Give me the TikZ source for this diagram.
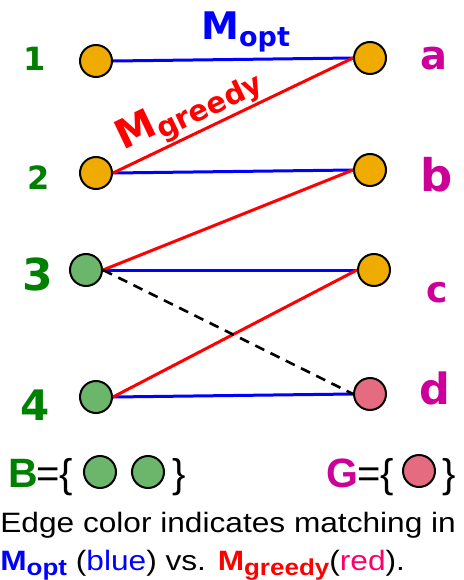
\documentclass[tikz,border=0pt]{standalone}
\usepackage{fontspec}
\setmainfont{Liberation Sans}
\newfontfamily\labfont{DejaVu Sans}
\newfontfamily\capfont[FakeStretch=1.13]{Liberation Sans}
\usetikzlibrary{positioning}
\definecolor{gold}{RGB}{240,171,0}
\definecolor{leaf}{RGB}{108,182,108}
\definecolor{rose}{RGB}{229,108,128}
\definecolor{lgreen}{RGB}{0,128,0}
\definecolor{magen}{RGB}{204,0,153}
\definecolor{pinkred}{RGB}{255,0,102}
\tikzset{every picture/.style={line width=0.75pt}}

\begin{document}
\begin{tikzpicture}[x=1pt, y=-1pt, inner sep=0pt,
        vtx/.style={circle, draw, line width=2pt, minimum size=32pt},
        lnum/.style={font=\labfont\bfseries\fontsize{#1}{#1}\selectfont, text=lgreen},
        llet/.style={font=\labfont\bfseries\fontsize{#1}{#1}\selectfont, text=magen},
        opt/.style={blue, line width=3pt},
        greedy/.style={red, line width=3pt}]
        \useasboundingbox (0,0) rectangle (463,580);
        % left side
        \node[vtx, fill=gold] (n1) at (96, 61)  {};
        \node[vtx, fill=gold] (n2) at (96, 173) {};
        \node[vtx, fill=leaf] (n3) at (86, 270) {};
        \node[vtx, fill=leaf] (n4) at (96, 397) {};
        % right side
        \node[vtx, fill=gold] (a) at (370, 58)  {};
        \node[vtx, fill=gold] (b) at (370, 170) {};
        \node[vtx, fill=gold] (c) at (374, 270) {};
        \node[vtx, fill=rose] (d) at (370, 394) {};
        % labels
        \node[lnum=32] (t1) at (35, 59)  {1};
        \node[lnum=32] (t2) at (39, 178) {2};
        \node[lnum=44] (t3) at (38, 274) {3};
        \node[lnum=42] (t4) at (35, 405) {4};
        \node[llet=40] (ta) at (434, 59)  {a};
        \node[llet=45] (tb) at (437, 175) {b};
        \node[llet=36] (tc) at (437, 293) {c};
        \node[llet=43] (td) at (435, 388) {d};
        % edges
        \draw[opt] (n1.east) -- (a.west);
        \draw[opt] (n2.east) -- (b.west);
        \draw[opt] (n3.east) -- (c.west);
        \draw[opt] (n4.east) -- (d.west);
        \draw[greedy] (n2.east) -- node[sloped, above=1pt, pos=0.36, font=\labfont\bfseries] (lgreedy)
            {\fontsize{40}{40}\selectfont M\raisebox{-7pt}{\fontsize{29}{29}\selectfont greedy}} (a.west);
        \draw[greedy] (n3.east) -- (b.west);
        \draw[greedy] (n4.east) -- (c.west);
        \draw[dashed, line width=2.6pt, dash pattern=on 10pt off 7pt] (n3.east) -- (d.west);
        \node[anchor=base west, text=blue, font=\labfont\bfseries] (lopt) at (201, 40)
            {\fontsize{38}{38}\selectfont M\raisebox{-7pt}{\fontsize{27}{27}\selectfont opt}};
        % the two sets
        \node[anchor=base west, text=lgreen, font=\bfseries\fontsize{41}{41}\selectfont] (bset) at (8, 487) {B};
        \node[anchor=base west, font=\fontsize{40}{40}\selectfont] (beq) at (36, 487) {=\{};
        \node[vtx, fill=leaf] (b1) at (100, 472) {};
        \node[vtx, fill=leaf] (b2) at (148, 472) {};
        \node[anchor=base west, font=\fontsize{40}{40}\selectfont] (bend) at (172, 487) {\}};
        \node[anchor=base west, text=magen, font=\bfseries\fontsize{41}{41}\selectfont] (gset) at (326, 487) {G};
        \node[anchor=base west, font=\fontsize{40}{40}\selectfont] (geq) at (357, 487) {=\{};
        \node[vtx, fill=rose] (g1) at (419, 471) {};
        \node[anchor=base west, font=\fontsize{40}{40}\selectfont] (gend) at (442, 487) {\}};
        % caption
        \node[anchor=base west, font=\capfont\fontsize{28}{28}\selectfont] (cap1) at (0, 532)
            {Edge color indicates matching in};
        \node[anchor=base west, font=\capfont\fontsize{28}{28}\selectfont] (cap2) at (0, 570)
            {\textcolor{blue}{\bfseries M\raisebox{-5pt}{\fontsize{23}{23}\selectfont opt}}
             (\textcolor{blue}{blue}) vs.
             \textcolor{red}{\bfseries M\raisebox{-5pt}{\fontsize{23}{23}\selectfont greedy}}(\textcolor{pinkred}{red}).};
    \end{tikzpicture}
\end{document}
